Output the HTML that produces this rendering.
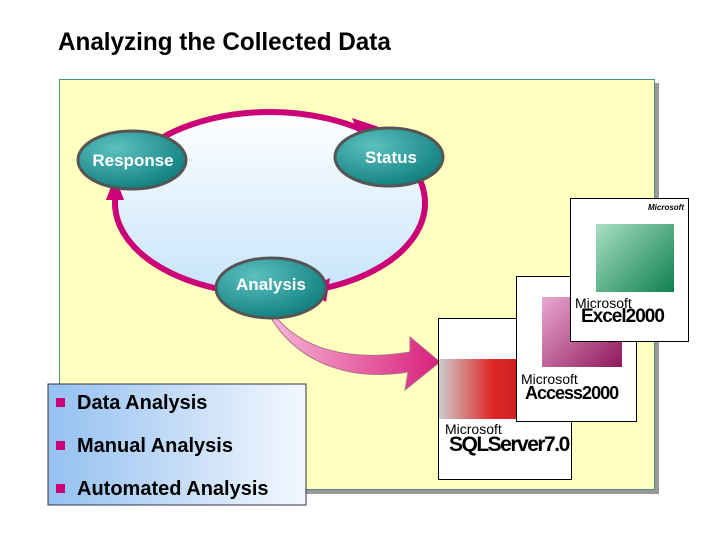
<!DOCTYPE html>
<html><head><style>
body{margin:0;width:720px;height:540px;background:#fff;position:relative;overflow:hidden;font-family:"Liberation Sans",sans-serif}
.t{position:absolute;left:58px;top:28px;font-size:25px;font-weight:bold;color:#000;transform:scaleX(0.97);transform-origin:left;white-space:nowrap}
.box{position:absolute;border:1px solid #000;background:#fff;overflow:hidden}
</style></head><body>
<div class="t">Analyzing the Collected Data</div>
<div style="position:absolute;left:63px;top:83px;width:596px;height:411px;background:#999"></div>
<div style="position:absolute;left:59px;top:79px;width:594px;height:409px;background:#ffffc0;border:1px solid #4a8f8a"></div>
<svg width="720" height="540" style="position:absolute;left:0;top:0">
<defs>
<linearGradient id="lb" x1="0" y1="0" x2="0" y2="1"><stop offset="0" stop-color="#fff"/><stop offset="1" stop-color="#c6e4fa"/></linearGradient>
<radialGradient id="tl" cx="0.35" cy="0.3" r="0.8"><stop offset="0" stop-color="#5cc0c0"/><stop offset="1" stop-color="#0a7a7a"/></radialGradient>
<linearGradient id="pk" x1="0" y1="0" x2="1" y2="0"><stop offset="0" stop-color="#f7b8d8"/><stop offset="1" stop-color="#d8207a"/></linearGradient>
<linearGradient id="bb" x1="0" y1="0" x2="1" y2="0"><stop offset="0" stop-color="#94c0f0"/><stop offset="1" stop-color="#f4f8ff"/></linearGradient>
</defs>
<ellipse cx="270" cy="203" rx="155" ry="91" fill="url(#lb)" stroke="#cc0077" stroke-width="6"/>
<polygon points="352,118 382,128 362,143" fill="#cc0077"/>
<polygon points="106,200 115,176 124,200" fill="#cc0077"/>
<polygon points="306,290 330,278 326,302" fill="#cc0077"/>
<path d="M268,313 C300,370 360,380 408,372 L405,390 L440,362 L410,337 L410,352 C350,362 300,350 272,312 Z" fill="url(#pk)" stroke="#b07090" stroke-width="1"/>
<ellipse cx="132" cy="160" rx="54" ry="29" fill="url(#tl)" stroke="#555" stroke-width="3"/>
<ellipse cx="389" cy="157" rx="54" ry="29" fill="url(#tl)" stroke="#555" stroke-width="3"/>
<ellipse cx="271" cy="288" rx="55" ry="30" fill="url(#tl)" stroke="#555" stroke-width="3"/>
<g font-family="Liberation Sans" font-weight="bold" font-size="17" fill="#fff" text-anchor="middle">
<text x="133" y="166">Response</text><text x="391" y="163">Status</text><text x="271" y="290">Analysis</text></g>
<rect x="48" y="384" width="258" height="121" fill="url(#bb)" stroke="#334" stroke-width="1"/>
<g fill="#cc0077"><rect x="56" y="398" width="9" height="9"/><rect x="56" y="441" width="9" height="9"/><rect x="56" y="484" width="9" height="9"/></g>
<g font-family="Liberation Sans" font-weight="bold" font-size="20" fill="#000">
<text x="77" y="409">Data Analysis</text><text x="77" y="452">Manual Analysis</text><text x="77" y="495">Automated Analysis</text></g>
</svg>
<div class="box" style="left:438px;top:318px;width:132px;height:160px">
<div style="position:absolute;left:0;top:40px;width:132px;height:60px;background:linear-gradient(90deg,#ccc,#e02828 40%,#a01010)"></div>
<div style="position:absolute;left:6px;top:102px;font-size:14px">Microsoft</div>
<div style="position:absolute;left:10px;top:114px;font-size:21px;font-weight:bold;letter-spacing:-1.5px">SQLServer7.0</div>
</div>
<div class="box" style="left:516px;top:276px;width:119px;height:144px">
<div style="position:absolute;left:25px;top:20px;width:80px;height:70px;background:linear-gradient(135deg,#e8a8d0,#90185a)"></div>
<div style="position:absolute;left:4px;top:94px;font-size:14px">Microsoft</div>
<div style="position:absolute;left:8px;top:106px;font-size:18px;font-weight:bold;letter-spacing:-1px">Access2000</div>
</div>
<div class="box" style="left:570px;top:198px;width:117px;height:142px">
<div style="position:absolute;right:4px;top:4px;font-size:8px;font-weight:bold;font-style:italic">Microsoft</div>
<div style="position:absolute;left:25px;top:25px;width:78px;height:68px;background:linear-gradient(135deg,#a8e0c0,#108050)"></div>
<div style="position:absolute;left:4px;top:96px;font-size:14px">Microsoft</div>
<div style="position:absolute;left:10px;top:107px;font-size:19px;font-weight:bold;letter-spacing:-1px">Excel2000</div>
</div>
</body></html>
